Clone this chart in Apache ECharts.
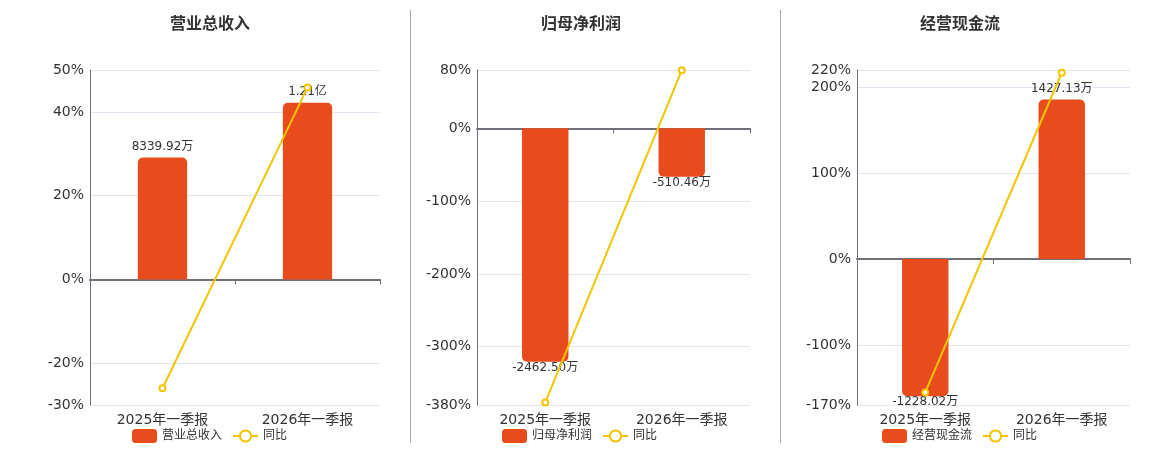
<!DOCTYPE html>
<html><head><meta charset="utf-8">
<script src="https://cdn.jsdelivr.net/npm/echarts@6/dist/echarts.min.js"></script>
<style>html,body{margin:0;padding:0;background:#fff}#c{width:1160px;height:450px}</style>
</head><body><div id="c"></div>
<script>
const categories = ['2025年一季报', '2026年一季报'];

const revenueName = '营业总收入';
const revenueValues = [8339.92, 12100];
const revenueLabels = ['8339.92万', '1.21亿'];
const revenueYoY = [-26.0, 45.8];
const revenueTicks = [-30, -20, 0, 20, 40, 50];

const profitName = '归母净利润';
const profitValues = [-2462.50, -510.46];
const profitLabels = ['-2462.50万', '-510.46万'];
const profitYoY = [-376.4, 79.5];
const profitTicks = [-380, -300, -200, -100, 0, 80];

const cashName = '经营现金流';
const cashValues = [-1228.02, 1427.13];
const cashLabels = ['-1228.02万', '1427.13万'];
const cashYoY = [-155.4, 216.8];
const cashTicks = [-170, -100, 0, 100, 200, 220];

const panels = [
  {name: revenueName, vals: revenueValues, labels: revenueLabels, yoy: revenueYoY, ticks: revenueTicks,
   grid: {left: 90, top: 70, width: 290, height: 335}, titleLeft: 165, legendLeft: 127},
  {name: profitName, vals: profitValues, labels: profitLabels, yoy: profitYoY, ticks: profitTicks,
   grid: {left: 477, top: 70, width: 273, height: 335}, titleLeft: 536, legendLeft: 497},
  {name: cashName, vals: cashValues, labels: cashLabels, yoy: cashYoY, ticks: cashTicks,
   grid: {left: 857, top: 70, width: 273, height: 335}, titleLeft: 915, legendLeft: 877}
];

const BAR = '#E84C1C', LINE = '#F5C400', AXIS = '#6E7079', TXT = '#333';

function barRange(vals, ticks) {
  const pMin = ticks[0], pMax = ticks[ticks.length - 1];
  let big = vals[0];
  vals.forEach(v => { if (Math.abs(v) > Math.abs(big)) big = v; });
  const f = 1.185;
  if (big > 0) { const mx = big * f; return [mx * pMin / pMax, mx]; }
  const mn = big * f; return [mn, mn * pMax / pMin];
}

const option = {
  animation: false,
  textStyle: {fontFamily: 'DejaVu Sans, "Noto Sans CJK SC", sans-serif'},
  title: [], grid: [], xAxis: [], yAxis: [], series: [], legend: [],
  graphic: [
    {type: 'line', shape: {x1: 410.5, y1: 10, x2: 410.5, y2: 443}, style: {stroke: '#aaa', lineWidth: 1}},
    {type: 'line', shape: {x1: 780.5, y1: 10, x2: 780.5, y2: 443}, style: {stroke: '#aaa', lineWidth: 1}}
  ]
};

panels.forEach((p, g) => {
  option.title.push({text: p.name, left: p.titleLeft, top: 12,
    textStyle: {fontSize: 16, fontWeight: 'bold', color: TXT}});
  option.grid.push(Object.assign({containLabel: false}, p.grid));
  option.xAxis.push({type: 'category', gridIndex: g, data: categories, position: 'bottom',
    axisLine: {show: false, onZero: false}, axisTick: {show: false},
    axisLabel: {fontSize: 14, color: TXT, margin: 8}, splitLine: {show: false}});
  option.xAxis.push({type: 'category', gridIndex: g, data: categories, position: 'bottom',
    axisLine: {show: true, onZero: true, lineStyle: {color: AXIS, width: 2}},
    axisTick: {show: true, length: 5, lineStyle: {color: AXIS}},
    axisLabel: {show: false}, splitLine: {show: false}});
  const pMin = p.ticks[0], pMax = p.ticks[p.ticks.length - 1];
  option.yAxis.push({type: 'value', gridIndex: g, min: pMin, max: pMax, position: 'left',
    axisLine: {show: true, lineStyle: {color: AXIS, width: 1}},
    axisTick: {show: false, customValues: p.ticks},
    axisLabel: {customValues: p.ticks, formatter: '{value}%', fontSize: 14, color: TXT, margin: 6},
    splitLine: {show: true, lineStyle: {color: '#E0E6F1'}}});
  const br = barRange(p.vals, p.ticks);
  option.yAxis.push({type: 'value', gridIndex: g, min: br[0], max: br[1], position: 'right', show: false,
    splitLine: {show: false}});
  const xi = g * 2, yi = g * 2;
  option.series.push({type: 'bar', name: p.name, xAxisIndex: xi, yAxisIndex: yi + 1,
    barWidth: '34%', itemStyle: {color: BAR},
    label: {show: true, fontSize: 12, color: TXT, distance: 5,
      formatter: (q) => p.labels[q.dataIndex]},
    data: p.vals.map(v => ({value: v,
      label: v < 0 ? {position: 'bottom', distance: 0} : {position: 'top', distance: 5},
      itemStyle: {borderRadius: v < 0 ? [0, 0, 5, 5] : [5, 5, 0, 0]}}))});
  option.series.push({type: 'line', name: '同比', xAxisIndex: xi, yAxisIndex: yi, z: 3,
    symbol: 'emptyCircle', symbolSize: 6, itemStyle: {color: LINE},
    lineStyle: {color: LINE, width: 2}, data: p.yoy});
  option.legend.push({left: p.legendLeft, top: 424, itemWidth: 25, itemHeight: 14, itemGap: 10,
    textStyle: {fontSize: 12, color: TXT}, data: [p.name, '同比']});
});

const chart = echarts.init(document.getElementById('c'));
chart.setOption(option);
</script></body></html>
